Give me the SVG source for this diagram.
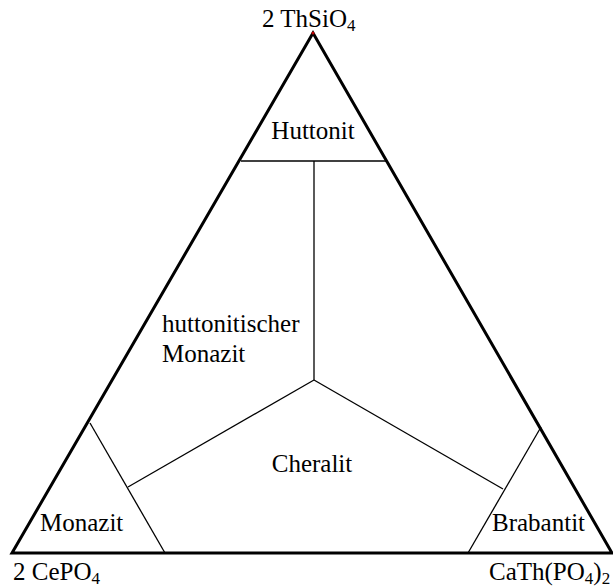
<svg xmlns="http://www.w3.org/2000/svg" width="613" height="586" viewBox="0 0 613 586">
<style>
.t{font-family:"Liberation Serif","Times New Roman",serif;font-size:25px;fill:#000}
.s{font-size:17px}
.outer{fill:none;stroke:#000;stroke-width:3;stroke-linejoin:miter}
.inner{fill:none;stroke:#000;stroke-width:1.3}
</style>
<rect width="613" height="586" fill="#fff"/>
<g id="triangle">
<polygon class="outer" points="313,33 12,553 612,553"/>
<circle cx="313" cy="33" r="1.5" fill="#c00000"/>
</g>
<g id="connectors">
<line class="inner" x1="241" y1="161" x2="387" y2="161"/>
<line class="inner" x1="314" y1="161" x2="314" y2="380"/>
<line class="inner" x1="314" y1="380" x2="128" y2="487"/>
<line class="inner" x1="314" y1="380" x2="503" y2="489"/>
<line class="inner" x1="90" y1="423" x2="165" y2="553"/>
<line class="inner" x1="541" y1="427" x2="468" y2="553"/>
</g>
<g id="vertex-top"><text class="t" x="262" y="27">2 ThSiO<tspan class="s" dy="4">4</tspan></text></g>
<g id="vertex-left"><text class="t" x="13" y="580">2 CePO<tspan class="s" dy="4">4</tspan></text></g>
<g id="vertex-right"><text class="t" x="489" y="580">CaTh(PO<tspan class="s" dy="4">4</tspan><tspan dy="-4">)</tspan><tspan class="s" dy="4">2</tspan></text></g>
<g id="huttonit"><text class="t" x="313" y="139" text-anchor="middle">Huttonit</text></g>
<g id="hutt-monazit"><text class="t" x="162" y="332">huttonitischer</text><text class="t" x="162" y="362">Monazit</text></g>
<g id="cheralit"><text class="t" x="312" y="472" text-anchor="middle">Cheralit</text></g>
<g id="monazit"><text class="t" x="40" y="531">Monazit</text></g>
<g id="brabantit"><text class="t" x="492" y="531">Brabantit</text></g>
</svg>
